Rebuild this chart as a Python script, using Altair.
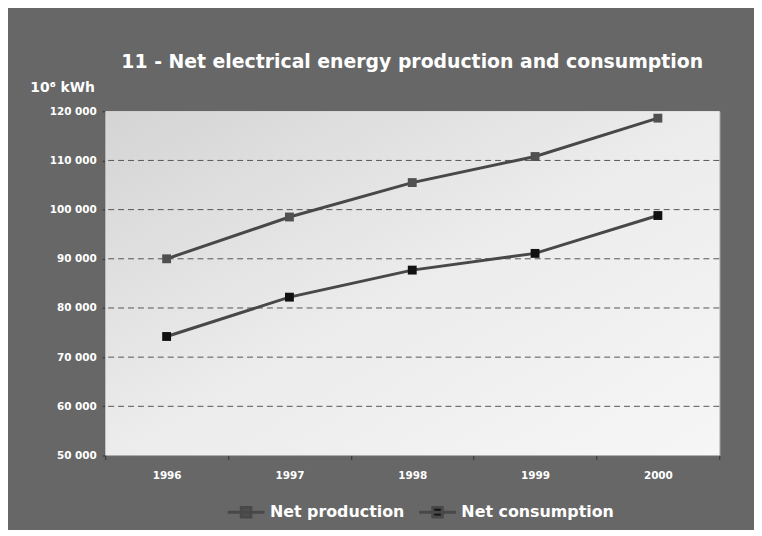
import altair as alt
import pandas as pd

years = ["1996", "1997", "1998", "1999", "2000"]
net_production = [90000, 98500, 105500, 110800, 118600]
net_consumption = [74200, 82200, 87700, 91100, 98800]
series_names = ["Net production", "Net consumption"]
y_ticks = [50000, 60000, 70000, 80000, 90000, 100000, 110000, 120000]
grid_values = [60000, 70000, 80000, 90000, 100000, 110000]

rows = []
for y, p, c in zip(years, net_production, net_consumption):
    rows.append({"year": y, "series": series_names[0], "value": p})
    rows.append({"year": y, "series": series_names[1], "value": c})
df = pd.DataFrame(rows)

W, H = 619, 347
FONT = "DejaVu Sans"

x_enc = alt.X("year:O", scale=alt.Scale(type="band", paddingInner=0, paddingOuter=0),
              axis=alt.Axis(title=None, labelAngle=0, tickBand="extent", labelColor="white",
                            labelFontSize=10.5, labelFontWeight="bold", labelPadding=11,
                            labelFont=FONT,
                            tickColor="#333333", tickSize=4, domainColor="#333333", grid=False))
y_scale = alt.Scale(domain=[50000, 120000], nice=False, zero=False)
y_enc = alt.Y("value:Q", scale=y_scale,
              axis=alt.Axis(values=y_ticks,
                            labelExpr="replace(format(datum.value, ','), ',', ' ')",
                            labelColor="white", labelFontSize=10.5, labelFontWeight="bold",
                            labelFont=FONT,
                            labelPadding=6, tickColor="#333333", tickSize=3,
                            domainColor="#333333", domainWidth=1.5, grid=False,
                            title="10⁶ kWh", titleAngle=0, titleColor="white", titleFontSize=14,
                            titleFont=FONT,
                            titleFontWeight="bold", titleX=-76, titleY=-17, titleAlign="left"))

bg = alt.Chart(pd.DataFrame({"a": [0]})).mark_rect(
    color=alt.Gradient(gradient="linear", x1=0, y1=0, x2=1, y2=1,
                       stops=[alt.GradientStop(color="#d4d4d4", offset=0),
                              alt.GradientStop(color="#ececec", offset=0.5),
                              alt.GradientStop(color="#f6f6f6", offset=1)])
).encode(x=alt.value(0), x2=alt.value(W), y=alt.value(0), y2=alt.value(H))

grid = alt.Chart(pd.DataFrame({"g": grid_values})).mark_rule(
    color="#555555", strokeDash=[6, 4], strokeWidth=1
).encode(y=alt.Y("g:Q", scale=y_scale))

lines = alt.Chart(df).mark_line(strokeWidth=3, color="#484848").encode(
    x=x_enc, y=y_enc, detail="series:N")

points = alt.Chart(df).mark_point(shape="square", filled=True, size=80, opacity=1).encode(
    x=x_enc, y=y_enc,
    color=alt.Color("series:N",
                    scale=alt.Scale(domain=series_names, range=["#505050", "#111111"]),
                    legend=alt.Legend(title=None, orient="none", legendX=122, legendY=384,
                                      direction="horizontal",
                                      symbolType="M-1,0L1,0M-0.26,-0.26L0.26,-0.26L0.26,0.26L-0.26,0.26Z",
                                      symbolSize=1369, symbolStrokeColor="#484848",
                                      symbolStrokeWidth=3, labelColor="white",
                                      labelFont=FONT,
                                      labelFontSize=16, labelFontWeight="bold",
                                      labelOffset=4, columnPadding=8, symbolOpacity=1)))

chart = alt.layer(bg, grid, lines, points).properties(
    width=W, height=H,
    title=alt.TitleParams("11 - Net electrical energy production and consumption",
                          color="white", fontSize=19, fontWeight="bold", anchor="middle",
                          offset=9, font=FONT),
    autosize=alt.AutoSizeParams(type="none"),
    padding={"left": 98, "top": 102, "right": 35, "bottom": 73},
    background="#676767",
).configure_view(stroke=None).configure(font=FONT)

chart.save("out.html", embed_options={"renderer": "svg", "actions": False})
